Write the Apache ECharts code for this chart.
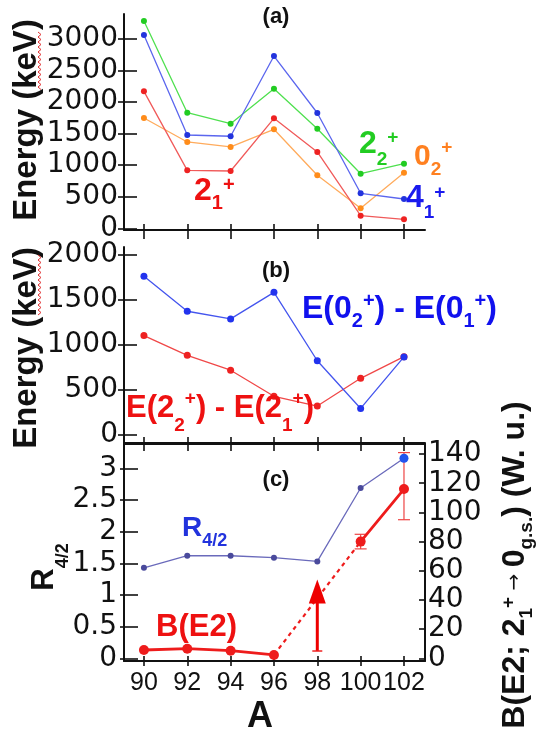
<!DOCTYPE html>
<html><head><meta charset="utf-8">
<script src="https://cdn.jsdelivr.net/npm/echarts@6/dist/echarts.min.js"></script>
<style>html,body{margin:0;padding:0;background:#fff;}#c{width:537px;height:738px;}</style>
</head><body><div id="c"></div>
<script>
// ---------- data ----------
const massNumbers = [90, 92, 94, 96, 98, 100, 102];
// panel (a) level energies (keV)
const energy2plus1 = [2167, 919, 908, 1741, 1209, 202, 145];
const energy0plus2 = [1746, 1367, 1288, 1567, 840, 319, 882];
const energy4plus1 = [3057, 1477, 1457, 2725, 1825, 556, 466];
const energy2plus2 = [3278, 1829, 1656, 2209, 1577, 866, 1024];
// panel (b) energy differences (keV)
const diff0plus = [1765, 1375, 1290, 1585, 825, 295, 868];
const diff2plus = [1105, 885, 720, 430, 322, 630, 870];
// panel (c)
const r42 = [1.43, 1.62, 1.62, 1.59, 1.53, 2.69, 3.16];
const be2 = [5.7, 6.6, 5.2, 2.3, null, 80, 116];
const be2ErrLow = [null, null, null, null, null, 75, 95];
const be2ErrHigh = [null, null, null, null, null, 85, 141];
const be2LimitMass = [98];
const be2LimitFrom = [5];
const be2LimitTo = [54];
// tick values
const energyTicksA = [0, 500, 1000, 1500, 2000, 2500, 3000];
const energyTicksB = [0, 500, 1000, 1500, 2000];
const r42Ticks = [0, 0.5, 1, 1.5, 2, 2.5, 3];
const be2Ticks = [0, 20, 40, 60, 80, 100, 120, 140];

// ---------- helpers ----------
const pairs = (arr) => massNumbers.map((a, i) => [a, arr[i]]);
const X_MIN = 89.08, X_MAX = 102.97;
const AXIS_COLOR = '#111';
const BOLD = 'Liberation Sans';
const plain = (v) => String(v);

function xAx(grid, extra) {
  return Object.assign({
    type: 'value', gridIndex: grid, min: X_MIN, max: X_MAX, position: 'bottom',
    splitLine: { show: false },
    axisLine: { show: false, onZero: false },
    axisTick: { show: false },
    axisLabel: { show: false }
  }, extra);
}
function yAx(grid, min, max, extra) {
  return Object.assign({
    type: 'value', gridIndex: grid, min: min, max: max, position: 'left',
    splitLine: { show: false },
    axisLine: { show: false, onZero: false },
    axisTick: { show: false },
    axisLabel: { show: false }
  }, extra);
}
const line = (w) => ({ show: true, onZero: false, lineStyle: { color: AXIS_COLOR, width: w } });
const tick = (inside, len, vals) => ({ show: true, inside: inside, length: len, customValues: vals, lineStyle: { color: AXIS_COLOR, width: 1.6 } });
const ylab = (vals, margin) => ({ show: true, customValues: vals, margin: margin, formatter: plain, color: AXIS_COLOR, fontFamily: 'DejaVu Sans', fontSize: 28 });

function lineSeries(xi, yi, data, lineColor, dotColor, size, width) {
  return {
    type: 'line', xAxisIndex: xi, yAxisIndex: yi, data: data,
    symbol: 'circle', symbolSize: size, showSymbol: true,
    lineStyle: { color: lineColor, width: width },
    itemStyle: { color: dotColor },
    emphasis: { disabled: true }, z: 3
  };
}

function rl(o) {
  const fam = BOLD;
  return {
    type: 'text', x: o.x, y: o.y, rotation: o.rot || 0, z: 100,
    style: {
      text: o.text, align: o.align || 'left', verticalAlign: 'middle', fill: o.color,
      fontFamily: fam, fontWeight: 'bold', fontSize: o.F,
      rich: {
        m: { fontSize: o.F, fontWeight: 'bold', fontFamily: fam, fill: o.color, lineHeight: o.LH },
        s: { fontSize: o.f, fontWeight: 'bold', fontFamily: fam, fill: o.color, verticalAlign: 'bottom', padding: [0, 0, o.pb || 0, 0] },
        p: { fontSize: o.f, fontWeight: 'bold', fontFamily: fam, fill: o.color, verticalAlign: 'top', padding: [o.pt || 0, 0, 0, 0] },
        a: { fontSize: o.af || 20, fontWeight: 'normal', fontFamily: 'DejaVu Sans', fill: o.color, lineHeight: o.LH }
      }
    }
  };
}
function squiggle(x, y0, y1) {
  const pts = [];
  let k = 0;
  for (let y = y0; y <= y1; y += 2.5, k++) pts.push([x + (k % 2 ? 2 : -1), y]);
  return { type: 'polyline', z: 100, shape: { points: pts }, style: { stroke: '#e03030', lineWidth: 1, fill: null } };
}

// panel (c) pieces built from the arrays
const gapIdx = be2.indexOf(null);
const be2Dotted = [[massNumbers[gapIdx - 1], be2[gapIdx - 1]], [massNumbers[gapIdx + 1], be2[gapIdx + 1]]];
const be2Err = massNumbers.map((a, i) => [a, be2ErrLow[i], be2ErrHigh[i]]).filter(d => d[1] != null);
const be2Limit = be2LimitMass.map((a, i) => [a, be2LimitFrom[i], be2LimitTo[i]]);
const r42Data = massNumbers.map((a, i) => i === massNumbers.length - 1
  ? { value: [a, r42[i]], symbolSize: 9, itemStyle: { color: '#2255ee' } }
  : [a, r42[i]]);

const RED = '#ee1c1c';

const option = {
  animation: false,
  backgroundColor: '#fff',
  grid: [
    { left: 124, width: 301, top: 14, height: 216 },
    { left: 124, width: 301, top: 247, height: 196 },
    { left: 124, width: 301, top: 444, height: 217 }
  ],
  xAxis: [
    xAx(0, { axisLine: line(2), axisTick: tick(true, 6, massNumbers) }),
    xAx(0, { axisTick: tick(false, 9, massNumbers) }),
    xAx(1, { axisLine: line(2), axisTick: tick(true, 6, massNumbers) }),
    xAx(1, { axisTick: tick(false, 8, massNumbers) }),
    xAx(2, { axisLine: line(2), axisTick: tick(true, 5, massNumbers),
      axisLabel: { show: true, customValues: massNumbers, margin: 10, formatter: plain, color: AXIS_COLOR, fontFamily: 'Liberation Sans', fontSize: 25 } }),
    xAx(2, { axisTick: tick(false, 5, massNumbers) }),
    xAx(2, { position: 'top', axisLine: line(2) })
  ],
  yAxis: [
    yAx(0, -24, 3389, { axisLine: line(2), axisTick: tick(true, 13, energyTicksA), axisLabel: ylab(energyTicksA, 6) }),
    yAx(0, -24, 3389, { axisTick: tick(false, 6, energyTicksA) }),
    yAx(1, -89, 2089, { axisLine: line(2), axisTick: tick(true, 13, energyTicksB), axisLabel: ylab(energyTicksB, 6) }),
    yAx(1, -89, 2089, { axisTick: tick(false, 6, energyTicksB) }),
    yAx(2, -0.043, 3.385, { axisLine: line(2), axisTick: tick(true, 14, r42Ticks), axisLabel: ylab(r42Ticks, 7) }),
    yAx(2, -0.043, 3.385, { axisTick: tick(false, 4, r42Ticks) }),
    yAx(2, -1.85, 146.9, { position: 'right', axisLine: line(2), axisTick: tick(true, 6, be2Ticks), axisLabel: ylab(be2Ticks, 3) })
  ],
  series: [
    lineSeries(0, 0, pairs(energy0plus2), '#ffab5c', '#ff8c1a', 6, 1.3),
    lineSeries(0, 0, pairs(energy2plus1), '#f05a5a', '#ee2222', 6, 1.3),
    lineSeries(0, 0, pairs(energy2plus2), '#4fe04f', '#22cc22', 6, 1.3),
    lineSeries(0, 0, pairs(energy4plus1), '#5b66ee', '#2233dd', 6, 1.3),
    lineSeries(2, 2, pairs(diff2plus), '#f04848', '#ee2222', 7, 1.3),
    lineSeries(2, 2, pairs(diff0plus), '#4455ee', '#2233ee', 7, 1.3),
    lineSeries(4, 4, r42Data, '#6a6abb', '#4a4a9c', 6, 1.3),
    {
      type: 'line', xAxisIndex: 4, yAxisIndex: 6, data: be2Dotted, symbol: 'none',
      lineStyle: { color: RED, width: 2.2, type: [4, 4] }, z: 2
    },
    {
      type: 'custom', xAxisIndex: 4, yAxisIndex: 6, data: be2Err, z: 2,
      encode: { x: 0, y: [1, 2] },
      renderItem: function (params, api) {
        const x = api.value(0);
        const lo = api.coord([x, api.value(1)]);
        const hi = api.coord([x, api.value(2)]);
        const w = 6;
        const st = { stroke: '#ee4444', lineWidth: 1.2 };
        return { type: 'group', children: [
          { type: 'line', shape: { x1: lo[0], y1: lo[1], x2: hi[0], y2: hi[1] }, style: st },
          { type: 'line', shape: { x1: lo[0] - w, y1: lo[1], x2: lo[0] + w, y2: lo[1] }, style: st },
          { type: 'line', shape: { x1: hi[0] - w, y1: hi[1], x2: hi[0] + w, y2: hi[1] }, style: st }
        ] };
      }
    },
    {
      type: 'custom', xAxisIndex: 4, yAxisIndex: 6, data: be2Limit, z: 4,
      encode: { x: 0, y: [1, 2] },
      renderItem: function (params, api) {
        const x = api.value(0);
        const lo = api.coord([x, api.value(1)]);
        const tip = api.coord([x, api.value(2)]);
        const headH = 24, headW = 8.5, capW = 5;
        return { type: 'group', children: [
          { type: 'line', shape: { x1: lo[0], y1: lo[1], x2: tip[0], y2: tip[1] + headH - 1 }, style: { stroke: '#ee0000', lineWidth: 3 } },
          { type: 'line', shape: { x1: lo[0] - capW, y1: lo[1], x2: lo[0] + capW, y2: lo[1] }, style: { stroke: '#ee2222', lineWidth: 1.5 } },
          { type: 'polygon', shape: { points: [[tip[0], tip[1]], [tip[0] - headW, tip[1] + headH], [tip[0] + headW, tip[1] + headH]] }, style: { fill: '#ee0000' } }
        ] };
      }
    },
    Object.assign(lineSeries(4, 6, pairs(be2), RED, RED, 10, 2.8), { connectNulls: false, z: 5 })
  ],
  graphic: [
    // panel tags
    { type: 'text', x: 276, y: 17, z: 100, style: { text: '(a)', align: 'center', verticalAlign: 'middle', fontFamily: BOLD, fontWeight: 'bold', fontSize: 22, fill: '#111' } },
    { type: 'text', x: 276, y: 271, z: 100, style: { text: '(b)', align: 'center', verticalAlign: 'middle', fontFamily: BOLD, fontWeight: 'bold', fontSize: 22, fill: '#111' } },
    { type: 'text', x: 276, y: 480, z: 100, style: { text: '(c)', align: 'center', verticalAlign: 'middle', fontFamily: BOLD, fontWeight: 'bold', fontSize: 22, fill: '#111' } },
    // panel (a) level labels
    rl({ x: 194, y: 191, text: '{m|2}{s|1}{p|+}', color: '#ee1111', F: 32, f: 20, LH: 50, pb: 3, pt: 9 }),
    rl({ x: 359, y: 144, text: '{m|2}{s|2}{p|+}', color: '#22cc22', F: 32, f: 19, LH: 50, pb: 0, pt: 9.5 }),
    rl({ x: 414, y: 157, text: '{m|0}{s|2}{p|+}', color: '#ff8020', F: 30, f: 19, LH: 50, pb: 2.5, pt: 6.5 }),
    rl({ x: 406, y: 198, text: '{m|4}{s|1}{p|+}', color: '#1a1aee', F: 32, f: 19, LH: 50, pb: 0.5, pt: 10 }),
    // panel (b) labels
    rl({ x: 302, y: 309, text: '{m|E(0}{s|2}{p|+}{m|) - E(0}{s|1}{p|+}{m|)}', color: '#1111ee', F: 32, f: 20, LH: 50, pb: 2.5, pt: 7 }),
    rl({ x: 126, y: 408, text: '{m|E(2}{s|2}{p|+}{m|) - E(2}{s|1}{p|+}{m|)}', color: '#ee1111', F: 31, f: 19, LH: 56, pb: 0.5, pt: 9.5 }),
    // panel (c) labels
    rl({ x: 182, y: 528, text: '{m|R}{s|4/2}', color: '#2233dd', F: 28, f: 18, LH: 50, pb: 2.5 }),
    rl({ x: 156, y: 627, text: '{m|B(E2)}', color: '#ee1111', F: 31, f: 18, LH: 40 }),
    // axis titles
    rl({ x: 27, y: 120, rot: Math.PI / 2, align: 'center', text: '{m|Energy (keV)}', color: '#111', F: 33, f: 20, LH: 40 }),
    rl({ x: 27, y: 348, rot: Math.PI / 2, align: 'center', text: '{m|Energy (keV)}', color: '#111', F: 33, f: 20, LH: 40 }),
    rl({ x: 44, y: 567, rot: Math.PI / 2, align: 'center', text: '{m|R}{s|4/2}', color: '#111', F: 31, f: 18, LH: 58, pb: 0.5 }),
    rl({ x: 515, y: 565, rot: Math.PI / 2, align: 'center', text: '{m|B(E2; 2}{s|1}{p|+}{a| → }{m|0}{s|g.s.}{m|) (W. u.)}', color: '#111', F: 32, f: 19, LH: 50, pb: 3.5, pt: 9, af: 20 }),
    rl({ x: 260, y: 717, align: 'center', text: '{m|A}', color: '#111', F: 36, f: 20, LH: 40 }),
    // spell-check squiggles under "keV"
    squiggle(39, 32, 90),
    squiggle(39, 255, 317)
  ]
};

const chart = echarts.init(document.getElementById('c'), null, { renderer: 'canvas' });
chart.setOption(option);
</script>
</body></html>
